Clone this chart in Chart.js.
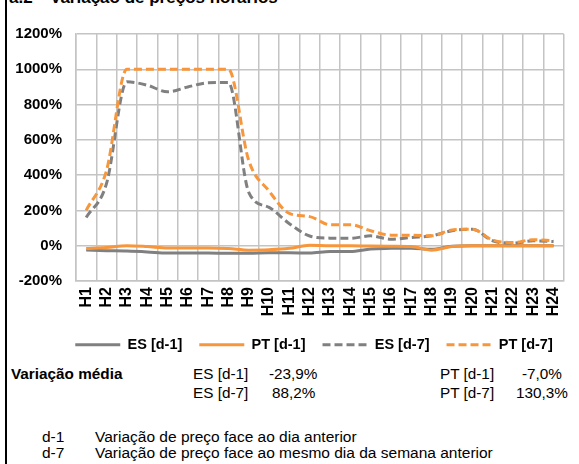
<!DOCTYPE html>
<html>
<head>
<meta charset="utf-8">
<script src="https://cdn.jsdelivr.net/npm/chart.js@4"></script>
<style>
  html, body { margin: 0; padding: 0; background: #ffffff; overflow: hidden; }
  body { width: 579px; height: 464px; position: relative; font-family: "Liberation Sans", Arial, sans-serif; color: #000; }
  #wrap { position: absolute; left: 0; top: 0; width: 579px; height: 362px; }
  .t { position: absolute; white-space: nowrap; line-height: 1; }
  .b { font-weight: bold; }
  #border { position: absolute; left: 5px; top: 0; width: 2px; height: 464px; background: #000; }
</style>
</head>
<body>
<div id="border"></div>
<div class="t b" style="left:9px; top:-11px; font-size:17px;">a.2</div>
<div class="t b" style="left:50px; top:-11px; font-size:17px;">Variação de preços horários</div>
<div id="wrap"><canvas id="c" width="579" height="362"></canvas></div>
<div id="extra"></div>
<script>
// ---- data ----
const categories = ['H1','H2','H3','H4','H5','H6','H7','H8','H9','H10','H11','H12',
                    'H13','H14','H15','H16','H17','H18','H19','H20','H21','H22','H23','H24'];
const esD1 = [-25,-28,-30,-35,-42,-42,-42,-43,-43,-40,-40,-42,-33,-33,-18,-15,-14,-20,-3,0,0,0,0,0];
const ptD1 = [-16,-10,0,-5,-13,-13,-13,-16,-25,-23,-15,2,0,0,-2,-3,-5,-25,-5,0,0,0,0,0];
const esD7 = [160,352,929,910,872,900,923,925,303,217,125,55,43,42,56,37,47,56,85,94,28,15,28,24];
const ptD7 = [200,426,1000,1000,1000,1000,1000,1000,483,310,183,165,119,119,85,60,60,56,89,94,32,18,34,28];
const seriesNames = ['ES [d-1]','PT [d-1]','ES [d-7]','PT [d-7]'];
const yMin = -200, yMax = 1200, yStep = 200;
const avgTitle = 'Variação média';
const avgNames = ['ES [d-1]','ES [d-7]','PT [d-1]','PT [d-7]'];
const avgValues = ['-23,9%','88,2%','-7,0%','130,3%'];
const noteKeys = ['d-1','d-7'];
const noteTexts = ['Variação de preço face ao dia anterior','Variação de preço face ao mesmo dia da semana anterior'];

// ---- colours ----
const GRAY = '#808080';
const ORANGE = '#f7963a';
const GRID = '#c4c4c4';
const FONT = '"Liberation Sans", Arial, sans-serif';

const legendShift = {
  id: 'legendShift',
  afterLayout(chart) {
    const lg = chart.legend;
    if (lg) { lg.left += 30; lg.right += 30; }
  }
};

const ctx = document.getElementById('c').getContext('2d');
new Chart(ctx, {
  type: 'line',
  data: {
    labels: categories,
    datasets: [
      { label: seriesNames[0], data: esD1, borderColor: GRAY, backgroundColor: GRAY, borderWidth: 3, order: 3 },
      { label: seriesNames[1], data: ptD1, borderColor: ORANGE, backgroundColor: ORANGE, borderWidth: 3, order: 2 },
      { label: seriesNames[2], data: esD7, borderColor: GRAY, backgroundColor: GRAY, borderWidth: 3, borderDash: [8,4], order: 1 },
      { label: seriesNames[3], data: ptD7, borderColor: ORANGE, backgroundColor: ORANGE, borderWidth: 3, borderDash: [8,4], order: 0 }
    ]
  },
  options: {
    responsive: false,
    animation: false,
    devicePixelRatio: 1,
    layout: { padding: { left: 0, right: 11, top: 34, bottom: 0 } },
    elements: {
      point: { radius: 0, hoverRadius: 0 },
      line: { cubicInterpolationMode: 'monotone', fill: false, borderCapStyle: 'butt' }
    },
    plugins: {
      tooltip: { enabled: false },
      legend: {
        position: 'bottom',
        labels: {
          usePointStyle: true,
          pointStyle: 'line',
          pointStyleWidth: 45,
          padding: 17,
          color: '#000',
          font: { family: FONT, size: 14.5, weight: 'bold' },
          sort: (a, b) => a.datasetIndex - b.datasetIndex,
          generateLabels: (chart) => {
            const items = Chart.defaults.plugins.legend.labels.generateLabels(chart);
            items.forEach((it) => {
              const ds = chart.data.datasets[it.datasetIndex];
              it.lineDash = ds.borderDash || [];
              it.lineWidth = ds.borderWidth;
              it.strokeStyle = ds.borderColor;
              it.pointStyle = 'line';
              it.lineCap = 'butt';
            });
            return items;
          }
        }
      }
    },
    scales: {
      x: {
        offset: true,
        grid: { offset: true, color: GRID, lineWidth: 1.5, drawTicks: false },
        border: { color: GRID, width: 1.5 },
        ticks: {
          autoSkip: false, minRotation: 90, maxRotation: 90, padding: 6,
          color: '#000', font: { family: FONT, size: 16, weight: 'bold' }
        },
        afterFit: (s) => { s.height = 39.5; }
      },
      y: {
        min: yMin, max: yMax,
        grid: { color: GRID, lineWidth: 1.5, drawTicks: false },
        border: { color: GRID, width: 1.5 },
        ticks: {
          stepSize: yStep, padding: 14, color: '#000',
          font: { family: FONT, size: 15, weight: 'bold' },
          callback: (v) => v + '%'
        },
        afterFit: (s) => { s.width = 76; }
      }
    }
  },
  plugins: [legendShift]
});

// ---- summary texts ----
const extra = document.getElementById('extra');
function addText(txt, left, top, size, bold) {
  const d = document.createElement('div');
  d.className = 't' + (bold ? ' b' : '');
  d.style.left = left + 'px';
  d.style.top = top + 'px';
  d.style.fontSize = size + 'px';
  d.textContent = txt;
  extra.appendChild(d);
}
addText(avgTitle, 11, 366, 15.3, true);
addText(avgNames[0], 193, 366, 15.3, false);
addText(avgValues[0], 269, 366, 15.3, false);
addText(avgNames[1], 193, 385, 15.3, false);
addText(avgValues[1], 272, 385, 15.3, false);
addText(avgNames[2], 440, 366, 15.3, false);
addText(avgValues[2], 522, 366, 15.3, false);
addText(avgNames[3], 440, 385, 15.3, false);
addText(avgValues[3], 516, 385, 15.3, false);
addText(noteKeys[0], 42, 429, 15.5, false);
addText(noteTexts[0], 95, 429, 15.5, false);
addText(noteKeys[1], 42, 445, 15.5, false);
addText(noteTexts[1], 95, 445, 15.5, false);
</script>
</body>
</html>
